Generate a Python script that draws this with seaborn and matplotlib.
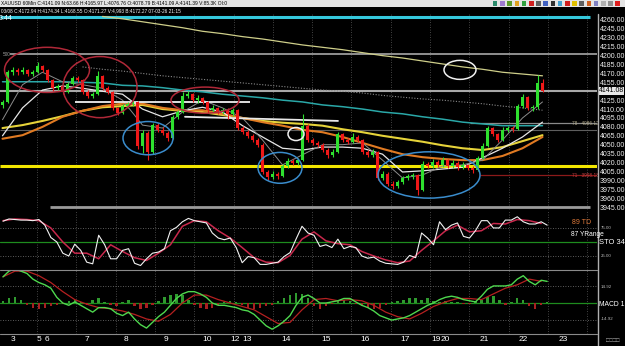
import numpy as np
import pandas as pd
import matplotlib
matplotlib.use("Agg")
import matplotlib.pyplot as plt
import seaborn as sns
from matplotlib.patches import Ellipse, Rectangle
from matplotlib.lines import Line2D

# ---------------- data ----------------
opens = [4116, 4122, 4172, 4176, 4172, 4176, 4169, 4172, 4182, 4176,
         4159, 4145, 4149, 4139, 4152, 4162, 4159, 4139, 4132, 4135,
         4166, 4145, 4139, 4112, 4103, 4115, 4118, 4122, 4048, 4070,
         4038, 4083, 4075, 4070, 4061, 4097, 4105, 4132, 4135, 4125,
         4129, 4122, 4108, 4112, 4105, 4108, 4102, 4108, 4078, 4071,
         4065, 4058, 4050, 4004, 3996, 4001, 3997, 4014, 4023, 4019,
         4024, 4082, 4058, 4053, 4050, 4041, 4033, 4038, 4068, 4058,
         4055, 4063, 4058, 4038, 4033, 4038, 3994, 4001, 3984, 3980,
         3987, 3994, 3997, 3999, 3974, 4018, 4014, 4021, 4016, 4024,
         4014, 4019, 4012, 4016, 4011, 4007, 4028, 4048, 4078, 4068,
         4058, 4075, 4078, 4076, 4115, 4130, 4112, 4113, 4154]
closes = [4122, 4172, 4176, 4172, 4176, 4169, 4172, 4182, 4176, 4159,
          4145, 4149, 4139, 4152, 4162, 4159, 4139, 4132, 4135, 4166,
          4145, 4139, 4112, 4103, 4115, 4118, 4122, 4048, 4070, 4038,
          4083, 4075, 4070, 4061, 4097, 4105, 4132, 4135, 4125, 4129,
          4122, 4108, 4112, 4105, 4108, 4102, 4108, 4078, 4071, 4065,
          4058, 4050, 4004, 3996, 4001, 3997, 4014, 4023, 4019, 4024,
          4082, 4058, 4053, 4050, 4041, 4033, 4038, 4068, 4058, 4055,
          4063, 4058, 4038, 4033, 4038, 3994, 4001, 3984, 3980, 3987,
          3994, 3997, 3999, 3974, 4018, 4014, 4021, 4016, 4024, 4014,
          4019, 4012, 4016, 4011, 4007, 4028, 4048, 4078, 4068, 4058,
          4075, 4078, 4076, 4115, 4130, 4112, 4113, 4154, 4141]
highs = [4126, 4176, 4180, 4179, 4180, 4178, 4176, 4190, 4185, 4178,
         4161, 4153, 4151, 4156, 4166, 4165, 4161, 4142, 4139, 4174,
         4168, 4148, 4141, 4114, 4118, 4122, 4126, 4124, 4075, 4073,
         4087, 4086, 4079, 4073, 4100, 4109, 4138, 4140, 4137, 4133,
         4131, 4124, 4116, 4114, 4112, 4111, 4112, 4110, 4081, 4074,
         4068, 4061, 4052, 4007, 4005, 4004, 4017, 4027, 4026, 4028,
         4102, 4084, 4061, 4056, 4052, 4044, 4042, 4072, 4070, 4061,
         4070, 4066, 4060, 4041, 4042, 4040, 4006, 4004, 3988, 3991,
         3998, 4001, 4003, 4000, 4022, 4021, 4026, 4024, 4030, 4026,
         4024, 4022, 4020, 4018, 4014, 4031, 4052, 4082, 4080, 4070,
         4079, 4082, 4081, 4118, 4135, 4132, 4117, 4168, 4160]
lows = [4112, 4120, 4168, 4168, 4169, 4165, 4166, 4170, 4172, 4156,
        4141, 4142, 4136, 4137, 4150, 4155, 4136, 4129, 4129, 4133,
        4142, 4135, 4109, 4100, 4101, 4112, 4115, 4042, 4036, 4025,
        4035, 4071, 4066, 4057, 4059, 4094, 4103, 4128, 4122, 4121,
        4118, 4104, 4105, 4102, 4101, 4093, 4099, 4075, 4068, 4061,
        4054, 4046, 4001, 3990, 3993, 3993, 3995, 4011, 4016, 4016,
        4022, 4055, 4049, 4046, 4038, 4028, 4030, 4036, 4055, 4051,
        4052, 4054, 4035, 4029, 4030, 3990, 3991, 3980, 3976, 3977,
        3984, 3990, 3993, 3966, 3972, 4010, 4010, 4012, 4013, 4010,
        4011, 4008, 4009, 4007, 4003, 4005, 4026, 4046, 4065, 4055,
        4056, 4072, 4072, 4074, 4112, 4108, 4106, 4110, 4139]

# moving averages, one value every 4 bars
ma_teal = [4156, 4156, 4156, 4156, 4155, 4154, 4150, 4149, 4146, 4142, 4139, 4135, 4132, 4129,
           4125, 4122, 4117, 4114, 4110, 4105, 4102, 4097, 4093, 4088, 4085, 4082, 4082, 4082]
ma_long = [4266, 4262, 4257, 4252, 4247, 4241, 4237, 4232, 4228, 4223, 4218, 4214,
           4210, 4205, 4200, 4196, 4191, 4186, 4181, 4177, 4172, 4169, 4166]          # from bar 20
ma_dotted = [4181, 4177, 4174, 4170, 4166, 4163, 4160, 4157, 4154, 4151, 4148, 4145,
             4142, 4140, 4137, 4133, 4130, 4127, 4125, 4122, 4119, 4115, 4112, 4108]  # from bar 16
ma_yellow = [4078, 4083, 4090, 4098, 4107, 4113, 4115, 4117, 4110, 4107, 4105, 4100, 4095, 4090,
             4087, 4085, 4082, 4076, 4071, 4065, 4060, 4055, 4049, 4044, 4041, 4046, 4056, 4066]
ma_orange = [4060, 4066, 4080, 4097, 4107, 4115, 4119, 4119, 4112, 4108, 4108, 4102, 4095, 4088,
             4082, 4075, 4071, 4063, 4053, 4043, 4034, 4029, 4026, 4024, 4024, 4031, 4044, 4063]
ma_white = [4065, 4112, 4142, 4149, 4145, 4140, 4135, 4110, 4097, 4107, 4113, 4105, 4082, 4063,
            4044, 4041, 4046, 4046, 4044, 4034, 4004, 4006, 4009, 4012, 4028, 4044, 4063, 4088]
ma_fast = [4092, 4151, 4172, 4156, 4151, 4145, 4125, 4083, 4078, 4105, 4125, 4112, 4095, 4058,
           4016, 4033, 4050, 4050, 4053, 4024, 3994, 3999, 4014, 4016, 4024, 4058, 4095, 4122]

levels = {"cyan": 4265, "upper": 4203, "last": 4141.08, "white": 4122, "mid": 4075,
          "fib78": 4086.12, "support": 4014, "fib71": 3998.18, "floor": 3945}
price_ticks = [4260, 4245, 4230, 4215, 4200, 4185, 4170, 4155, 4125, 4110, 4095, 4080,
               4065, 4050, 4035, 4020, 4005, 3990, 3975, 3960, 3945]

# oscillators (indicator bars)
sto_fast = [87, 91, 90, 89, 89, 88, 90, 80, 58, 50, 30, 25, 46, 35, 14, 11, 62, 45, 20, 20,
            35, 38, 12, 8, 20, 30, 32, 38, 70, 76, 86, 92, 88, 86, 84, 66, 57, 54, 57, 40,
            13, 24, 22, 10, 10, 12, 14, 24, 31, 55, 78, 66, 62, 42, 45, 40, 55, 38, 42, 40,
            25, 21, 23, 16, 12, 11, 10, 14, 26, 22, 66, 57, 45, 86, 72, 80, 84, 60, 57, 70,
            88, 88, 75, 75, 89, 89, 95, 86, 82, 82, 86, 80]
sto_slow = [88, 91, 90, 88, 75, 50, 30, 30, 20, 45, 33, 22, 17, 30, 45, 78, 88, 86, 70, 57,
            40, 22, 14, 13, 26, 55, 68, 52, 47, 45, 33, 25, 18, 13, 16, 35, 52, 70, 80, 68,
            70, 83, 82, 90, 88, 83]   # every 2 bars
macd = [23, 28, 30, 28, 26, 21, 18, 16, 13, 5, 0, -2, 1, -2, -5, -8, -4, -4, -5, -9,
        -11, -8, -14, -19, -22, -17, -12, -8, -2, 4, 8, 10, 10, 8, 5, 0, -2, -2, -3, -4,
        -6, -7, -10, -15, -20, -23, -20, -16, -11, -2, 5, 7, 4, 0, 0, 1, 2, 4, 4, 1,
        -2, -4, -7, -11, -13, -15, -14, -13, -11, -8, -5, -2, 0, 3, 5, 6, 5, 3, 2, 1,
        6, 12, 15, 15, 15, 16, 21, 24, 19, 16, 20, 19]
signal = [23, 28, 28, 24, 18, 10, 3, -1, -4, -5, -7, -10, -14, -16, -10, 0, 7, 7, 3, 0,
          -3, -6, -12, -18, -17, -6, 3, 4, 2, 3, 2, -2, -8, -12, -14, -9, -3, 1, 4, 4,
          3, 8, 13, 16, 21, 19]       # every 2 bars
hist = [2, 4, 5, 3, -2, -4, -5, -4, -3, -2, -1, 2, 3, 1, -2, 3, 4, 1, -2, -3,
        1, 3, -3, -5, -4, -2, 2, 5, 7, 8, 7, 3, -2, -4, -5, -4, -2, 1, 2, 1,
        -2, -4, -5, -4, -3, -2, 2, 4, 7, 9, 8, 4, -3, -5, -3, -1, 2, 3, 2, -1,
        -3, -4, -5, -4, -2, 1, 2, 3, 4, 4, 3, 4, 2, 1, 2, 1, 1, -1, -1, 2,
        3, 5, 6, 3, -2, 1, 4, 3, -3, -5, -2, 1]

date_labels = ['3', '5', '6', '7', '8', '9', '10', '12', '13', '14', '15', '16', '17',
               '19', '20', '21', '22', '23']
date_pos = [1.71, 5.97, 7.36, 14.03, 20.64, 27.24, 34.17, 38.83, 40.84, 47.38, 54.03,
            60.57, 67.31, 72.37, 73.98, 80.44, 87.04, 93.71]

header1 = "XAUUSD 60Min C:4141.09 N:63.66 H:4165.97 L:4076.76 O:4078.79 B:4141.09 A:4141.39 V:85.3K OI:0"
header2 = "03/08 C:4172.94 H:4174.34 L:4168.55 O:4171.27 V:4,993 B:4172.27 07-03-26 21:15"

# ---------------- style ----------------
sns.set_theme(style="dark", rc={"axes.facecolor": "black", "figure.facecolor": "black"})
plt.rcParams['font.family'] = ['Liberation Sans', 'DejaVu Sans']

W, H = 625, 346
def fx(px): return px / W
def fy(py): return 1 - py / H

fig = plt.figure(figsize=(6.25, 3.46), dpi=100, facecolor='black')
ax = fig.add_axes([0, fy(210), fx(597), (210 - 14) / H])
ax_s = fig.add_axes([0, fy(270), fx(597), (270 - 210) / H])
ax_m = fig.add_axes([0, fy(334), fx(597), (334 - 270) / H])
for a in (ax, ax_s, ax_m):
    a.set_facecolor('black')
    a.grid(False)
    for sp in a.spines.values():
        sp.set_visible(False)
    # vertical dotted grid
    for k in range(15):
        f = (37 + 39.3 * k) / 597
        a.plot([f, f], [0, 1], transform=a.transAxes, color='#5a5a5a', lw=0.6,
               ls=(0, (1, 2)), zorder=0)

# ---------------- main price panel ----------------
o = np.array(opens, float); c = np.array(closes, float)
hi = np.array(highs, float); lo = np.array(lows, float)
idx = np.arange(len(c))
col = np.where(c >= o, '#2ee02e', '#f01818')
ax.set_xlim(-0.5, 118.9)
ax.set_ylim(3940.0, 4270.1)

def line(a, x, y, color, lw, ls='-', z=2):
    sns.lineplot(x=x, y=y, ax=a, color=color, lw=lw, ls=ls, estimator=None,
                 sort=False, legend=False, zorder=z)

# level lines
ax.hlines(levels["cyan"], -0.5, 117.5, color='#35c8dc', lw=2.2, zorder=2)
ax.hlines(levels["upper"], 1.5, 118.9, color='#9a9a9a', lw=1.3, zorder=2)
ax.hlines(levels["last"], -0.5, 118.9, color='#a8a8a8', lw=1.5, zorder=2)
ax.hlines(levels["mid"], -0.5, 118.9, color='#5e5e5e', lw=0.8, zorder=2)
ax.hlines(levels["fib78"], 93.5, 118.9, color='#8a8a8a', lw=0.9, zorder=2)
ax.hlines(levels["support"], -0.5, 118.9, color='#f2e600', lw=2.2, zorder=2)
ax.hlines(levels["fib71"], 95.5, 118.9, color='#8c1a1a', lw=0.9, zorder=2)
ax.hlines(levels["floor"], 9.5, 117.5, color='#9a9a9a', lw=2.0, zorder=2)
ax.hlines(levels["white"], 14.5, 49.5, color='#f0f0f0', lw=1.3, zorder=4)
ax.plot([36.5, 67.1], [4097, 4090], color='#e8e8e8', lw=1.3, zorder=4)

# moving averages
x4 = np.arange(0, 109, 4)
line(ax, np.arange(20, 109, 4), ma_long, '#cfcf8a', 0.9)
line(ax, np.arange(16, 109, 4), ma_dotted, '#8a8a8a', 0.8, ls=(0, (1, 1.5)))
line(ax, x4, ma_teal, '#2aa8a8', 1.1)
line(ax, x4, ma_yellow, '#e6d33a', 1.5)
line(ax, x4, ma_orange, '#e07a22', 1.5)
line(ax, x4, ma_white, '#e6e6e6', 0.9)
line(ax, x4, ma_fast, '#8c8c8c', 0.7)

# candles
ax.vlines(idx, lo, hi, colors=col, lw=0.8, zorder=5)
body = np.maximum(np.abs(c - o), 0.8)
ax.bar(idx, body, bottom=np.minimum(o, c), width=0.6, color=col, lw=0, zorder=6)

# annotation ellipses
for (cx, cy, w, h, ec) in [(8.9, 4176, 17, 76, '#b02838'), (19.5, 4147, 14.8, 103, '#b02838'),
                           (40.5, 4125, 13.6, 44, '#b02838'), (29.1, 4061, 10, 56, '#3a8ccc'),
                           (55.5, 4011, 8.8, 52, '#3a8ccc'), (85.3, 3999, 20.4, 78, '#3a8ccc'),
                           (58.7, 4068, 3.2, 22, '#f0f0f0'), (91.5, 4176, 6.4, 32, '#f0f0f0')]:
    ax.add_patch(Ellipse((cx, cy), w, h, fill=False, ec=ec, lw=1.1, zorder=7))

ax.set_xticks([])
ax.yaxis.tick_right()
ax.set_yticks(price_ticks)
ax.set_yticklabels([f"{v:.2f}" for v in price_ticks])
ax.tick_params(axis='y', colors='#f0f0f0', labelsize=5.0, length=0, pad=2.2)
ax.text(1.003, levels["last"], "4141.08", transform=ax.get_yaxis_transform(),
        fontsize=5.0, color='black', va='center', ha='left', clip_on=False,
        bbox=dict(boxstyle='square,pad=0.06', fc='#e8e8e8', ec='none'))
ax.text(0.958, levels["fib78"], "78   4086.12", transform=ax.get_yaxis_transform(),
        fontsize=3.4, color='#b8b090', va='center')
ax.text(0.958, levels["fib71"], "71   3998.18", transform=ax.get_yaxis_transform(),
        fontsize=3.4, color='#c84040', va='center')

# ---------------- stochastic panel ----------------
kx = np.arange(len(sto_fast))
ax_s.set_xlim(-0.5, 99.33)
ax_s.set_ylim(0, 107)
ax_s.axhline(75, color='#7a7a7a', lw=0.6, ls=(0, (1, 2)))
ax_s.axhline(25, color='#7a7a7a', lw=0.6, ls=(0, (1, 2)))
ax_s.axhline(50, color='#1e8c1e', lw=0.9)
line(ax_s, np.arange(0, 92, 2), sto_slow, '#c8284c', 1.1)
line(ax_s, kx, sto_fast, '#f2f2f2', 0.8, z=3)
ax_s.set_xticks([]); ax_s.set_yticks([])

# ---------------- MACD panel ----------------
ax_m.set_xlim(-0.5, 99.33)
ax_m.set_ylim(-27.2, 29)
ax_m.axhline(14.92, color='#7a7a7a', lw=0.6, ls=(0, (1, 2)))
ax_m.axhline(-14.92, color='#7a7a7a', lw=0.6, ls=(0, (1, 2)))
ax_m.axhline(0, color='#1e8c1e', lw=0.9)
hcol = np.where(np.array(hist) >= 0, '#2f9a2f', '#a82020')
ax_m.bar(kx, hist, width=0.4, color=hcol, lw=0, zorder=2)
line(ax_m, np.arange(0, 92, 2), signal, '#b52020', 0.9, z=3)
line(ax_m, kx, macd, '#4ed84e', 1.0, z=4)
ax_m.set_yticks([])
ax_m.set_xticks(date_pos)
ax_m.set_xticklabels(date_labels)
ax_m.tick_params(axis='x', colors='white', labelsize=6, length=0, pad=1.5)

# ---------------- frame, header, labels ----------------
for py in (270, 334):
    fig.add_artist(Line2D([0, fx(597)], [fy(py), fy(py)], color='#8a8a8a', lw=0.8))
fig.add_artist(Line2D([fx(597.5), fx(597.5)], [fy(14), 0], color='#b0b0b0', lw=1.0))

fig.add_artist(Rectangle((0, fy(6.5)), 1, 6.5 / H, transform=fig.transFigure,
                         fc='#e4e4e4', ec='none'))
fig.text(fx(1), fy(3.3), header1, fontsize=3.5, color='black', va='center')
fig.text(fx(1), fy(10.3), header2, fontsize=3.4, color='white', va='center')
icon_cols = ['#2a8a6a', '#a07ad0', '#5a9a2a', '#e0a020', '#30a040', '#d02020', '#606060',
             '#4060c0', '#303030', '#40a0d0', '#d02020', '#e0c000', '#606060', '#d06020',
             '#8080c0', '#b0b0b0', '#909090', '#e02020']
for k, ic in enumerate(icon_cols):
    fig.add_artist(Rectangle((fx(493 + 7.2 * k), fy(5.5)), 4.5 / W, 4.5 / H,
                             transform=fig.transFigure, fc=ic, ec='none'))

fig.text(fx(-1), fy(18.5), "3.44", fontsize=5, color='white', va='center')
fig.text(fx(3), fy(54), "500", fontsize=3.4, color='#a0a0a0', va='center')
fig.text(fx(572), fy(222), "89 TD", fontsize=5.0, color='#e07a3a', va='center')
fig.text(fx(571), fy(234), "87 YRange", fontsize=4.8, color='white', va='center')
fig.text(fx(601), fy(228), "75.00", fontsize=3.2, color='#bbbbbb', va='center')
fig.text(fx(599), fy(243), "STO 34", fontsize=5.4, color='white', va='center')
fig.text(fx(601), fy(256), "25.00", fontsize=3.2, color='#bbbbbb', va='center')
fig.text(fx(601), fy(287), "14.92", fontsize=3.2, color='#bbbbbb', va='center')
fig.text(fx(599), fy(304), "MACD 1", fontsize=4.9, color='white', va='center')
fig.text(fx(601), fy(319), "-14.92", fontsize=3.2, color='#bbbbbb', va='center')
fig.text(fx(606), fy(340), "□□□□", fontsize=4.0, color='#bbbbbb', va='center')

fig.savefig("out.png", dpi=100, facecolor='black')
